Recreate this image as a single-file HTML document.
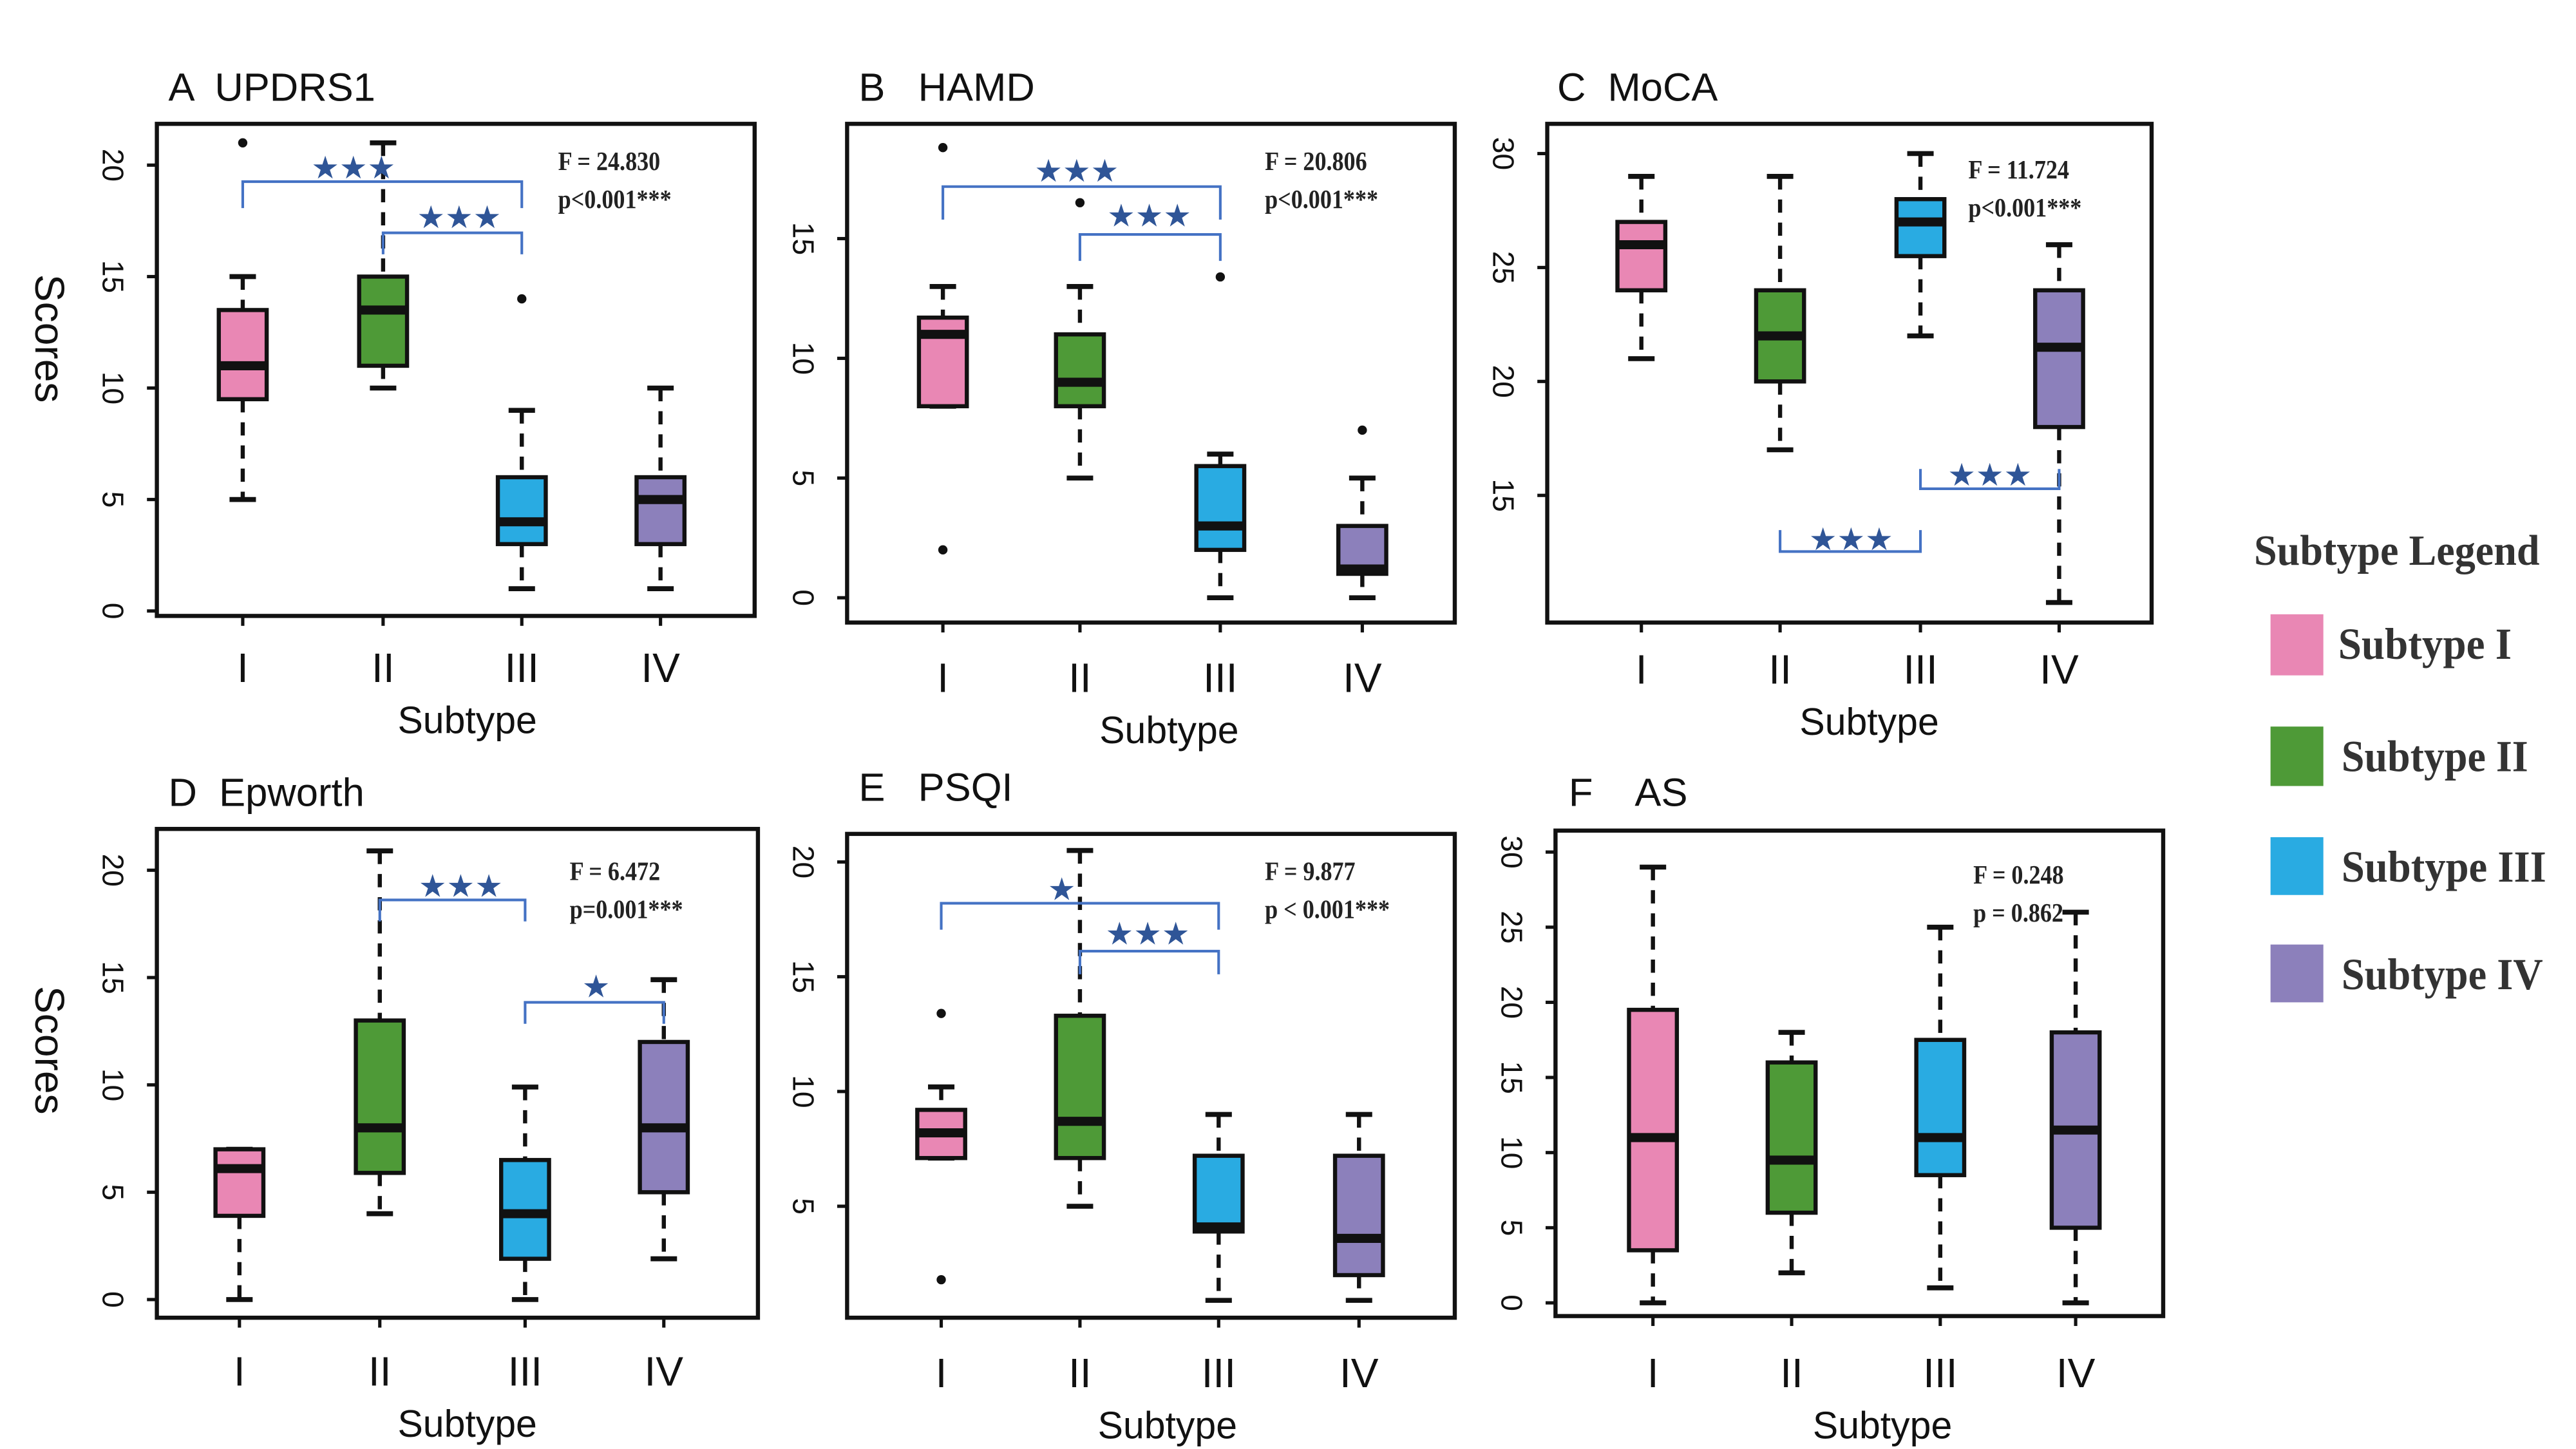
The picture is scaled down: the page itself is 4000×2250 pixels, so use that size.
<!DOCTYPE html>
<html><head><meta charset="utf-8"><style>
html,body{margin:0;padding:0;background:#fff;}
svg{display:block;}
.t{font-family:"Liberation Sans",sans-serif;}
.ti{font-family:"Liberation Sans","Noto Sans CJK SC",sans-serif;white-space:pre;}
.s{font-family:"Liberation Serif",serif;font-weight:bold;}
</style></head><body>
<svg id="chart" width="4000" height="2250" viewBox="0 0 1560 877.5" xmlns="http://www.w3.org/2000/svg">
<rect x="0" y="0" width="1560" height="877.5" fill="#fff"/>
<g>
<text class="s" x="1365" y="342" font-size="26" fill="#333" textLength="173" lengthAdjust="spacingAndGlyphs">Subtype Legend</text>
<rect x="1375" y="372" width="32" height="37" fill="#e987b4"/>
<text class="s" x="1416" y="399" font-size="27" fill="#333" textLength="105" lengthAdjust="spacingAndGlyphs">Subtype I</text>
<rect x="1375" y="440" width="32" height="36" fill="#4e9a37"/>
<text class="s" x="1418" y="467" font-size="27" fill="#333" textLength="113" lengthAdjust="spacingAndGlyphs">Subtype II</text>
<rect x="1375" y="507" width="32" height="35" fill="#29abe2"/>
<text class="s" x="1418" y="534" font-size="27" fill="#333" textLength="124" lengthAdjust="spacingAndGlyphs">Subtype III</text>
<rect x="1375" y="572" width="32" height="35" fill="#8c80bb"/>
<text class="s" x="1418" y="599" font-size="27" fill="#333" textLength="122" lengthAdjust="spacingAndGlyphs">Subtype IV</text>
</g>
</svg>
<script>
const categories = ["I","II","III","IV"];
const colors = ["#e987b4","#4e9a37","#29abe2","#8c80bb"];

const aLo=[5,10,1,1], aQ1=[9.5,11,3,3], aMed=[11,13.5,4,5], aQ3=[13.5,15,6,6], aHi=[15,21,9,10], aOut=[[21],[],[14],[]], aTicks=[0,5,10,15,20];
const bLo=[8,5,0,0], bQ1=[8,8,2,1], bMed=[11,9,3,1.2], bQ3=[11.7,11,5.5,3], bHi=[13,13,6,5], bOut=[[18.8,2],[16.5],[13.4],[7]], bTicks=[0,5,10,15];
const cLo=[21,17,22,10.3], cQ1=[24,20,25.5,18], cMed=[26,22,27,21.5], cQ3=[27,24,28,24], cHi=[29,29,30,26], cOut=[[],[],[],[]], cTicks=[15,20,25,30];
const dLo=[0,4,0,1.9], dQ1=[3.9,5.9,1.9,5], dMed=[6.1,8,4,8], dQ3=[7,13,6.5,12], dHi=[7,20.9,9.9,14.9], dOut=[[],[],[],[]], dTicks=[0,5,10,15,20];
const eLo=[7.1,5,0.9,0.9], eQ1=[7.1,7.1,3.9,2], eMed=[8.2,8.7,4.1,3.6], eQ3=[9.2,13.3,7.2,7.2], eHi=[10.2,20.5,9,9], eOut=[[13.4,1.8],[],[],[]], eTicks=[5,10,15,20];
const fLo=[0,2,1,0], fQ1=[3.5,6,8.5,5], fMed=[11,9.5,11,11.5], fQ3=[19.5,16,17.5,18], fHi=[29,18,25,26], fOut=[[],[],[],[]], fTicks=[0,5,10,15,20,25,30];

const panels=[
 {id:"a",title:"A  UPDRS1",fx:95,fy:75,fw:362,fh:298,y0:370,k:13.5,xs:[147,232,316,400],lo:aLo,q1:aQ1,med:aMed,q3:aQ3,hi:aHi,out:aOut,ticks:aTicks,tx:102,ty:61,xl:413,sub:444,subx:283,scores:205,stat:["F = 24.830","p<0.001***"],sx:338,sy:103,
  br:[{a:0,b:2,y:110,d:16,st:"★★★",sx:214,sy:108},{a:1,b:2,y:141,d:13,st:"★★★",sx:278,sy:138}]},
 {id:"b",title:"B   HAMD",fx:513,fy:75,fw:368,fh:302,y0:362,k:14.5,xs:[571,654,739,825],lo:bLo,q1:bQ1,med:bMed,q3:bQ3,hi:bHi,out:bOut,ticks:bTicks,tx:520,ty:61,xl:419,sub:450,subx:708,stat:["F = 20.806","p<0.001***"],sx:766,sy:103,
  br:[{a:0,b:2,y:113,d:20,st:"★★★",sx:652,sy:110},{a:1,b:2,y:142,d:16,st:"★★★",sx:696,sy:137}]},
 {id:"c",title:"C  MoCA",fx:937,fy:75,fw:366,fh:302,y0:507,k:13.8,xs:[994,1078,1163,1247],lo:cLo,q1:cQ1,med:cMed,q3:cQ3,hi:cHi,out:cOut,ticks:cTicks,tx:943,ty:61,xl:414,sub:445,subx:1132,stat:["F = 11.724","p<0.001***"],sx:1192,sy:108,
  br:[{a:1,b:2,y:334,d:-13,st:"★★★",sx:1121,sy:333},{a:2,b:3,y:296,d:-12,st:"★★★",sx:1205,sy:294}]},
 {id:"d",title:"D  Epworth",fx:95,fy:502,fw:364,fh:296,y0:787,k:13,xs:[145,230,318,402],lo:dLo,q1:dQ1,med:dMed,q3:dQ3,hi:dHi,out:dOut,ticks:dTicks,tx:102,ty:488,xl:839,sub:870,subx:283,scores:636,stat:["F = 6.472","p=0.001***"],sx:345,sy:533,
  br:[{a:1,b:2,y:545,d:13,st:"★★★",sx:279,sy:543},{a:2,b:3,y:607,d:13,st:"★",sx:361,sy:604}]},
 {id:"e",title:"E   PSQI",fx:513,fy:505,fw:368,fh:293,y0:800,k:13.9,xs:[570,654,738,823],lo:eLo,q1:eQ1,med:eMed,q3:eQ3,hi:eHi,out:eOut,ticks:eTicks,tx:520,ty:485,xl:840,sub:871,subx:707,stat:["F = 9.877","p < 0.001***"],sx:766,sy:533,
  br:[{a:0,b:2,y:547,d:16,st:"★",sx:643,sy:545},{a:1,b:2,y:576,d:14,st:"★★★",sx:695,sy:572}]},
 {id:"f",title:"F    AS",fx:942,fy:503,fw:368,fh:294,y0:789,k:9.1,xs:[1001,1085,1175,1257],lo:fLo,q1:fQ1,med:fMed,q3:fQ3,hi:fHi,out:fOut,ticks:fTicks,tx:950,ty:488,xl:840,sub:871,subx:1140,stat:["F = 0.248","p = 0.862"],sx:1195,sy:535,
  br:[]}
];
const NS="http://www.w3.org/2000/svg";
const svg=document.getElementById("chart");
function mk(tag,attrs,parent,text){const e=document.createElementNS(NS,tag);for(const k in attrs)e.setAttribute(k,attrs[k]);if(text!==undefined)e.textContent=text;parent.appendChild(e);return e;}
panels.forEach(p=>{
  const g=mk("g",{},svg);
  
  
  const yS=v=>p.y0-v*p.k;
  const t=mk("text",{class:"ti",x:p.tx,y:p.ty,"font-size":"24",fill:"#111"},g,p.title);
  
  
  const fr=mk("rect",{x:p.fx,y:p.fy,width:p.fw,height:p.fh,fill:"none",stroke:"#111","stroke-width":"2.5"},g);
  
  
  p.ticks.forEach(v=>{
    const y=yS(v);
    const tk=mk("line",{x1:p.fx-6,x2:p.fx,y1:y,y2:y,stroke:"#111","stroke-width":"2"},g);
    
    
    const lx=p.fx-28;
    const tl=mk("text",{class:"t",x:lx,y:y,"font-size":"18",fill:"#111","text-anchor":"middle",transform:`rotate(90 ${lx} ${y})`,"dominant-baseline":"middle"},g,String(v));
    
    
  });
  if(p.scores){
    const sc=mk("text",{class:"t",x:28,y:p.scores,"font-size":"25",fill:"#111","text-anchor":"middle",transform:`rotate(90 28 ${p.scores})`,"dominant-baseline":"middle"},g,"Scores");
    
    
  }
  categories.forEach((c,i)=>{
    const x=p.xs[i];
    const xt=mk("line",{x1:x,x2:x,y1:p.fy+p.fh,y2:p.fy+p.fh+6,stroke:"#111","stroke-width":"2"},g);
    
    
    const xl=mk("text",{class:"t",x:x,y:p.xl,"font-size":"25",fill:"#111","text-anchor":"middle"},g,c);
    
    
    const bg=mk("g",{},g);
    
    
    const hw=14.5,cw=8;
    mk("line",{x1:x,x2:x,y1:yS(p.hi[i]),y2:yS(p.q3[i]),stroke:"#111","stroke-width":"2.5","stroke-dasharray":"8,6"},bg);
    mk("line",{x1:x,x2:x,y1:yS(p.q1[i]),y2:yS(p.lo[i]),stroke:"#111","stroke-width":"2.5","stroke-dasharray":"8,6"},bg);
    mk("line",{x1:x-cw,x2:x+cw,y1:yS(p.hi[i]),y2:yS(p.hi[i]),stroke:"#111","stroke-width":"3"},bg);
    mk("line",{x1:x-cw,x2:x+cw,y1:yS(p.lo[i]),y2:yS(p.lo[i]),stroke:"#111","stroke-width":"3"},bg);
    mk("rect",{x:x-hw,y:yS(p.q3[i]),width:2*hw,height:Math.max(0.5,yS(p.q1[i])-yS(p.q3[i])),fill:colors[i],stroke:"#111","stroke-width":"2.5"},bg);
    mk("line",{x1:x-hw,x2:x+hw,y1:yS(p.med[i]),y2:yS(p.med[i]),stroke:"#111","stroke-width":"5.5"},bg);
    p.out[i].forEach(o=>{
      const pt=mk("circle",{cx:x,cy:yS(o),r:2.8,fill:"#111"},bg);
      
      
    });
  });
  const xa=mk("text",{class:"t",x:p.subx,y:p.sub,"font-size":"23",fill:"#111","text-anchor":"middle"},g,"Subtype");
  
  
  p.stat.forEach((s,j)=>{
    const st=mk("text",{class:"s",x:p.sx,y:p.sy+j*23,"font-size":"16",fill:"#222",transform:`translate(${p.sx*0.12} 0) scale(0.88 1)`},g,s);
    
    
  });
  p.br.forEach(b=>{
    const x1=p.xs[b.a],x2=p.xs[b.b];
    const bp=mk("path",{d:`M${x1} ${b.y+b.d}V${b.y}H${x2}V${b.y+b.d}`,fill:"none",stroke:"#4472c4","stroke-width":"1.6"},g);
    
    
    const ss=mk("text",{x:b.sx,y:b.sy,"font-size":"19",fill:"#2f5597","text-anchor":"middle","font-family":"DejaVu Sans, sans-serif"},g,b.st);
    
    
  });
});
</script>
</body></html>
